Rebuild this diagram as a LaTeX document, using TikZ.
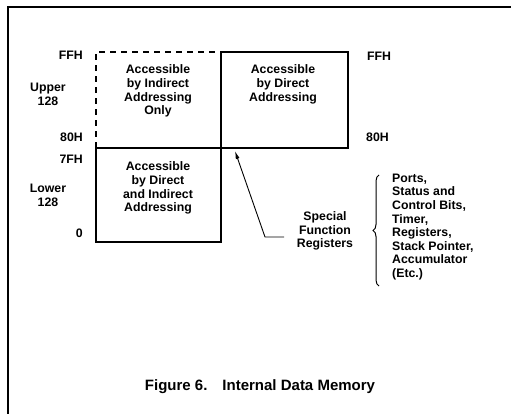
\documentclass[tikz,border=0pt]{standalone}
\usepackage{fontspec}
\setmainfont{Liberation Sans}
\usetikzlibrary{arrows.meta,decorations.pathreplacing}
\tikzset{
  lbl/.style={font=\bfseries\fontsize{12.3}{13.7}\selectfont, inner sep=0pt, align=center},
  lbll/.style={font=\bfseries\fontsize{12.3}{13.6}\selectfont, inner sep=0pt, align=left, anchor=west},
  memline/.style={line width=1.6pt},
  dashline/.style={line width=1.9pt, dash pattern=on 6pt off 5pt},
  frame/.style={line width=2pt},
}
\begin{document}
\begin{tikzpicture}[x=1pt,y=-1pt]
\useasboundingbox (0,0) rectangle (511,414);
% frame
\draw[frame] (8,414) -- (8,7) -- (511,7);
% memory areas
\draw[dashline] (96,148) -- (96,52) -- (221,52);
\draw[memline] (221,148) rectangle (348,52);
\draw[memline] (96,148) rectangle (221,242);
% area texts
\node[lbl] (upper) at (158,91) {Accessible\\by Indirect\\Addressing\\Only};
\node[lbl] (direct) at (283,84.5) {Accessible\\by Direct\\Addressing};
\node[lbl] (lower) at (158,188) {Accessible\\by Direct\\and Indirect\\Addressing};
% address labels
\node[lbl, anchor=east] (ffhl) at (83,55) {FFH};
\node[lbl, anchor=west] (ffhr) at (367,56) {FFH};
\node[lbl, anchor=east] (l80) at (83,137) {80H};
\node[lbl, anchor=west] (r80) at (366,137) {80H};
\node[lbl, anchor=east] (l7f) at (83,159) {7FH};
\node[lbl, anchor=east] (lzero) at (83,233) {0};
\node[lbl] (up128) at (48,94) {Upper\\128};
\node[lbl] (lo128) at (48,195) {Lower\\128};
% SFR
\node[lbl] (sfr) at (325,231) {Special\\Function\\Registers};
\coordinate (sfrstart) at (284,237);
\coordinate (sfrtip) at (235,151);
\coordinate (sfrbend) at (265,237);
\draw[line width=0.9pt, -{Latex[length=8pt,width=4pt]}] (sfrstart) -- (sfrbend) -- (sfrtip);
% brace and list
\draw[line width=1pt, decorate, decoration={brace, amplitude=6pt}] (379,286) -- (379,175);
\node[lbll] (list) at (392,227) {Ports,\\Status and\\Control Bits,\\Timer,\\Registers,\\Stack Pointer,\\Accumulator\\(Etc.)};
% caption
\node[font=\bfseries\fontsize{15}{17}\selectfont, inner sep=0pt] (cap) at (260,387) {Figure 6.\hspace{1em}Internal Data Memory};
\end{tikzpicture}
\end{document}
